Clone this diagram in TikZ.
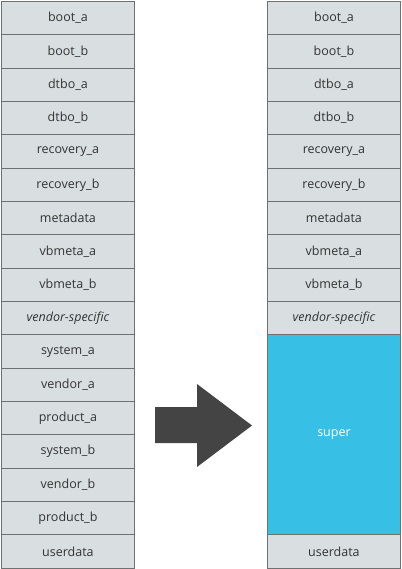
\documentclass[tikz,border=0pt]{standalone}
\usepackage{fontspec}
\setmainfont{Open Sans}
\definecolor{cellfill}{HTML}{D9DEE0}
\definecolor{cellline}{HTML}{6E7072}
\definecolor{celltext}{HTML}{333333}
\definecolor{superfill}{HTML}{37BFE6}
\definecolor{arrowfill}{HTML}{444444}
\tikzset{
  cell/.style={draw=cellline, line width=0.9pt, fill=cellfill, text=celltext,
    minimum width=133pt, minimum height=33.33pt, inner sep=0pt, anchor=north west,
    font=\fontsize{12.5}{14}\selectfont},
  supercell/.style={cell, fill=superfill, text=white, minimum height=200pt}
}
\begin{document}
\begin{tikzpicture}[x=1pt,y=-1pt]
\useasboundingbox (0,0) rectangle (401,569);
\foreach \t [count=\i] in {boot\_a,boot\_b,dtbo\_a,dtbo\_b,recovery\_a,recovery\_b,metadata,vbmeta\_a,vbmeta\_b,{\itshape vendor-specific},system\_a,vendor\_a,product\_a,system\_b,vendor\_b,product\_b,userdata}{
  \node[cell] (l\i) at (1,{1+(\i-1)*33.33}) {\t};
}
\foreach \t [count=\i] in {boot\_a,boot\_b,dtbo\_a,dtbo\_b,recovery\_a,recovery\_b,metadata,vbmeta\_a,vbmeta\_b,{\itshape vendor-specific}}{
  \node[cell] (r\i) at (267,{1+(\i-1)*33.33}) {\t};
}
\node[supercell] (super) at (267,{1+10*33.33}) {super};
\node[cell] (ruser) at (267,{1+16*33.33}) {userdata};
\fill[arrowfill] (155,407) -- (197,407) -- (197,384) -- (252,425.5) -- (197,467) -- (197,443) -- (155,443) -- cycle;
\end{tikzpicture}
\end{document}
